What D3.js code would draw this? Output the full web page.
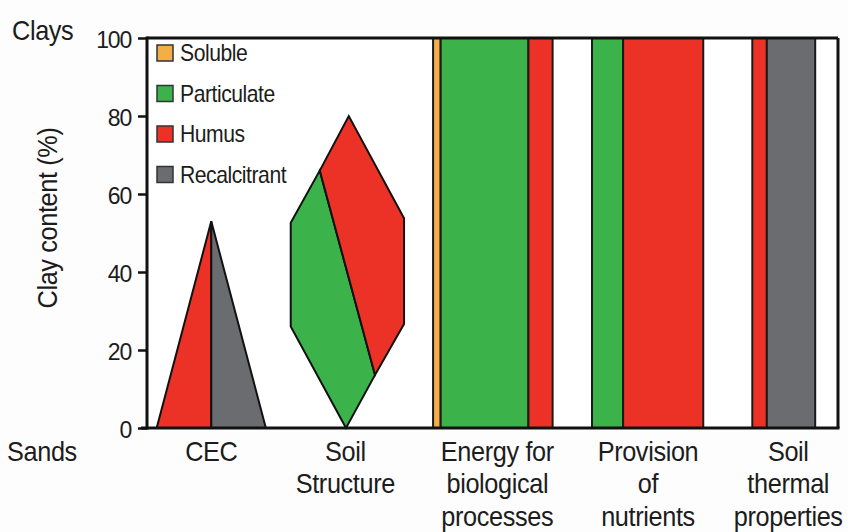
<!DOCTYPE html>
<html>
<head>
<meta charset="utf-8">
<script src="https://d3js.org/d3.v7.min.js"></script>
<style>
  body { margin: 0; background: #fdfdfd; }
  text { font-family: "Liberation Sans", Arial, sans-serif; fill: #1c1c1c; }
</style>
</head>
<body>
<div id="chart"></div>
<script>
"use strict"

// valores (x em % da largura do grafico, y em % de argila)
var yTicks = [0, 20, 40, 60, 80, 100];
var pools = ["Soluble", "Particulate", "Humus", "Recalcitrant"];
var poolColors = ["#f3ae45", "#3bb34a", "#ec3127", "#6b6c70"];

var categories = [["CEC"], ["Soil", "Structure"], ["Energy for", "biological", "processes"],
                  ["Provision", "of", "nutrients"], ["Soil", "thermal", "properties"]];
var categoryPos = [9.3, 28.7, 50.7, 72.5, 92.8];

var cecShapes = [
  {pool: "Humus",        pts: [[1.4, 0], [9.3, 53], [9.3, 0]]},
  {pool: "Recalcitrant", pts: [[9.3, 0], [9.3, 53], [17.2, 0]]}
];

var structureShapes = [
  {pool: "Particulate", pts: [[28.8, 0], [20.8, 26], [20.8, 52.6], [25.0, 66], [33.0, 13.6]]},
  {pool: "Humus",       pts: [[25.0, 66], [29.2, 80], [37.2, 53.8], [37.2, 26.7], [33.0, 13.6]]}
];

var bars = [
  {pool: "Soluble",      x0: 41.4, x1: 42.5},
  {pool: "Particulate",  x0: 42.5, x1: 55.2},
  {pool: "Humus",        x0: 55.2, x1: 58.7},
  {pool: "Particulate",  x0: 64.4, x1: 68.9},
  {pool: "Humus",        x0: 68.9, x1: 80.5},
  {pool: "Humus",        x0: 87.6, x1: 89.7},
  {pool: "Recalcitrant", x0: 89.7, x1: 96.7}
];

function desenha() {
  var W = 848, H = 532;
  var margin = {top: 38, right: 10, bottom: 104, left: 147};
  var w = W - margin.left - margin.right,
      h = H - margin.top - margin.bottom;
  var estreito = 0.92; // letras um pouco condensadas como no original

  var svg = d3.select("#chart").append("svg")
      .attr("width", W).attr("height", H);
  svg.append("rect").attr("width", W).attr("height", H).attr("fill", "#fdfdfd");

  var g = svg.append("g")
      .attr("transform", "translate(" + margin.left + "," + margin.top + ")");

  var x = d3.scaleLinear().domain([0, 100]).range([0, w]);
  var y = d3.scaleLinear().domain([0, 100]).range([h, 0]);
  var cor = d3.scaleOrdinal().domain(pools).range(poolColors);

  // fundo do grafico
  g.append("rect").attr("width", w).attr("height", h).attr("fill", "#ffffff");

  // barras
  g.selectAll(".bar").data(bars).enter().append("rect")
      .attr("class", "bar")
      .attr("x", d => x(d.x0))
      .attr("y", y(100))
      .attr("width", d => x(d.x1) - x(d.x0))
      .attr("height", y(0) - y(100))
      .attr("fill", d => cor(d.pool))
      .attr("stroke", "#1a1a1a")
      .attr("stroke-width", 2);

  // formas CEC e estrutura
  var linha = d3.line().x(d => x(d[0])).y(d => y(d[1]));
  g.selectAll(".shape").data(cecShapes.concat(structureShapes)).enter().append("path")
      .attr("class", "shape")
      .attr("d", d => linha(d.pts) + "Z")
      .attr("fill", d => cor(d.pool))
      .attr("stroke", "#111")
      .attr("stroke-width", 2)
      .attr("stroke-linejoin", "miter");

  // moldura
  g.append("line").attr("x1", 0).attr("x2", w).attr("y1", y(100)).attr("y2", y(100))
      .attr("stroke", "#111").attr("stroke-width", 3);
  g.append("line").attr("x1", w).attr("x2", w).attr("y1", y(100)).attr("y2", y(0))
      .attr("stroke", "#111").attr("stroke-width", 3);
  g.append("line").attr("x1", -6).attr("x2", w + 1.5).attr("y1", y(0)).attr("y2", y(0))
      .attr("stroke", "#111").attr("stroke-width", 3);

  // eixo y
  var eixoY = g.append("g")
      .call(d3.axisLeft(y).tickValues(yTicks).tickSize(9).tickPadding(7));
  eixoY.select(".domain").attr("stroke", "#111").attr("stroke-width", 3)
      .attr("d", "M0," + (y(100) - 1.5) + "V" + (y(0) + 1.5));
  eixoY.selectAll(".tick line").attr("stroke", "#111").attr("stroke-width", 2.5);
  eixoY.selectAll(".tick text")
      .style("font-size", "23px").style("letter-spacing", "-1.2px")
      .attr("dy", "0.42em").attr("fill", "#1c1c1c");

  function rotulo(px, py, txt, rot) {
    svg.append("text")
        .attr("transform", "translate(" + px + "," + py + ")" + (rot ? " rotate(-90)" : "") +
              " scale(" + estreito + ",1)")
        .attr("text-anchor", rot ? "middle" : "start")
        .style("font-size", "27.5px").style("letter-spacing", "-0.4px")
        .text(txt);
  }
  rotulo(57, margin.top + h / 2 - 15, "Clay content (%)", true);
  rotulo(12, 40, "Clays", false);
  rotulo(7, 461, "Sands", false);

  // rotulos das categorias
  var rot = g.selectAll(".cat").data(categories).enter().append("text")
      .attr("class", "cat")
      .attr("text-anchor", "middle")
      .style("font-size", "27.5px").style("letter-spacing", "-0.4px")
      .attr("transform", (d, i) => "translate(" + x(categoryPos[i]) + "," + (h + 33) + ") scale(" + estreito + ",1)");
  rot.selectAll("tspan").data(d => d).enter().append("tspan")
      .attr("x", 0)
      .attr("y", (d, i) => i * 32.5)
      .text(d => d);

  // legenda
  var leg = g.selectAll(".leg").data(pools).enter().append("g")
      .attr("class", "leg")
      .attr("transform", (d, i) => "translate(10," + (7 + i * 40.5) + ")");
  leg.append("rect").attr("width", 16).attr("height", 16)
      .attr("fill", d => cor(d)).attr("stroke", "#333").attr("stroke-width", 1.5);
  leg.append("text").attr("transform", "translate(23,16) scale(" + estreito + ",1)")
      .style("font-size", "23px").style("letter-spacing", "-0.5px")
      .text(d => d);
}

desenha();
</script>
</body>
</html>
